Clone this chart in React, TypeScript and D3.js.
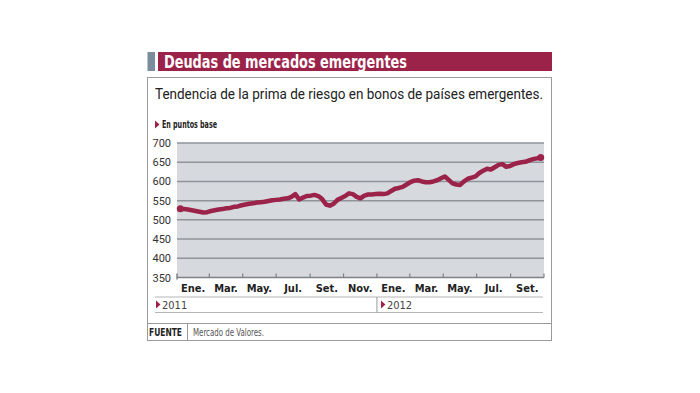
import React from 'react';
import * as d3 from 'd3';

// Serie semanal (puntos base), primera semana de ene. 2011 a fines de oct. 2012
const values2011 = [
  529, 528, 527, 525, 523, 521, 519, 520, 523, 525, 527, 528, 530, 531, 534, 535,
  538, 540, 542, 543, 545, 546, 547, 549, 551, 552, 553, 555, 556, 560, 567, 553,
  558, 562, 563, 565, 562, 554, 540, 537, 542, 552, 557, 562, 569, 567, 560, 556,
  563, 566, 566, 567,
];
const values2012 = [
  568, 567, 569, 575, 581, 583, 586, 592, 598, 602, 603, 600, 598, 598, 600, 603,
  608, 613, 604, 595, 592, 591, 600, 607, 610, 613, 622, 628, 633, 631, 637, 643,
  645, 638, 640, 645, 648, 650, 651, 655, 658, 660, 662,
];
const yTicks = [350, 400, 450, 500, 550, 600, 650, 700];
const monthLabels = ['Ene.', 'Mar.', 'May.', 'Jul.', 'Set.', 'Nov.', 'Ene.', 'Mar.', 'May.', 'Jul.', 'Set.'];
const years = ['2011', '2012'];

const title = 'Deudas de mercados emergentes';
const subtitle = 'Tendencia de la prima de riesgo en bonos de países emergentes.';
const unit = 'En puntos base';
const source = 'Mercado de Valores.';

const CRIMSON = '#9b2249';
const NARROW = '"Liberation Sans Narrow", "DejaVu Sans Condensed", "Roboto Condensed", sans-serif';
const SANS = 'Roboto, "Open Sans", sans-serif';

export default function App() {
  const values = [...values2011, ...values2012];
  const data = values.map((v, i) => ({ date: new Date(2011, 0, 7 + 7 * i), v }));

  const x = d3
    .scaleTime()
    .domain([new Date(2011, 0, 1), new Date(2012, 10, 1)])
    .range([177, 544]);
  const y = d3.scaleLinear().domain([350, 700]).range([277.5, 143]);

  const ticks = x.ticks(d3.timeMonth.every(2));
  const line = d3
    .line<{ date: Date; v: number }>()
    .x((d) => x(d.date))
    .y((d) => y(d.v));

  const first = data[0];
  const last = data[data.length - 1];
  const yearSplit = x(new Date(2012, 0, 1));

  const tri = (tx: number, ty: number) => `M${tx},${ty - 4}L${tx + 4.5},${ty}L${tx},${ty + 4}Z`;

  return (
    <svg
      width={700}
      height={393}
      style={{ position: 'absolute', left: 0, top: 0, background: '#fff' }}
    >
      {/* Title bar */}
      <rect x={147.5} y={52} width={7.5} height={19} fill='#7b8c9c' />
      <rect x={158} y={52} width={394} height={19} fill={CRIMSON} />
      <text
        x={164}
        y={68}
        fill='#fff'
        fontFamily={NARROW}
        fontWeight='bold'
        fontSize={17}
        textLength={243}
        lengthAdjust='spacingAndGlyphs'
      >
        {title}
      </text>

      {/* Frame */}
      <rect x={147.5} y={77.5} width={404} height={263} fill='none' stroke='#9a9a9a' />

      <text
        x={155}
        y={99}
        fill='#222'
        fontFamily={SANS}
        fontSize={15.5}
        textLength={388}
        lengthAdjust='spacingAndGlyphs'
      >
        {subtitle}
      </text>

      <path d={tri(155, 124.5)} fill={CRIMSON} />
      <text
        x={162}
        y={128}
        fill='#222'
        fontFamily={NARROW}
        fontWeight='bold'
        fontSize={10.5}
        textLength={55}
        lengthAdjust='spacingAndGlyphs'
      >
        {unit}
      </text>

      {/* Plot area */}
      <rect x={177} y={143} width={367} height={134.5} fill='#d6d9de' />
      {yTicks.slice(1).map((t) => (
        <line key={t} x1={177} x2={544} y1={y(t)} y2={y(t)} stroke='#8e949a' strokeWidth={1.5} />
      ))}
      <line x1={177} x2={544} y1={y(350)} y2={y(350)} stroke='#7d8288' strokeWidth={1.5} />
      <line x1={177} x2={177} y1={y(350) - 4} y2={y(350) + 2} stroke='#7d8288' strokeWidth={1.5} />
      {ticks.slice(1).map((t, i) => (
        <line
          key={i}
          x1={x(t)}
          x2={x(t)}
          y1={y(350) - 4}
          y2={y(350)}
          stroke='#7d8288'
          strokeWidth={1.2}
        />
      ))}

      {yTicks.map((t) => (
        <text
          key={t}
          x={171}
          y={y(t) + 4}
          textAnchor='end'
          fill='#333'
          fontFamily={SANS}
          fontSize={11}
        >
          {t}
        </text>
      ))}

      {monthLabels.map((m, i) => {
        const a = x(ticks[i]);
        const b = i + 1 < ticks.length ? x(ticks[i + 1]) : x.range()[1];
        return (
          <text
            key={i}
            x={(a + b) / 2}
            y={292}
            textAnchor='middle'
            fill='#222'
            fontFamily={NARROW}
            fontWeight='bold'
            fontSize={11}
          >
            {m}
          </text>
        );
      })}

      {/* Series */}
      <path
        d={line(data) || ''}
        fill='none'
        stroke={CRIMSON}
        strokeWidth={4.5}
        strokeLinejoin='round'
        strokeLinecap='round'
      />
      <circle cx={x(first.date)} cy={y(first.v)} r={3.5} fill={CRIMSON} />
      <circle cx={x(last.date)} cy={y(last.v)} r={3.5} fill={CRIMSON} />

      {/* Year band */}
      <line x1={155} x2={543} y1={297} y2={297} stroke='#b5b5b5' />
      <line x1={155} x2={543} y1={312.5} y2={312.5} stroke='#b5b5b5' />
      <line x1={yearSplit} x2={yearSplit} y1={297} y2={312.5} stroke='#9a9a9a' />
      {years.map((yr, i) => {
        const bx = i === 0 ? 155 : yearSplit + 3;
        return (
          <g key={yr}>
            <path d={tri(bx + 1, 304.5)} fill={CRIMSON} />
            <text x={bx + 7} y={308.5} fill='#444' fontFamily={NARROW} fontSize={11}>
              {yr}
            </text>
          </g>
        );
      })}

      {/* Source */}
      <line x1={147.5} x2={551.5} y1={323.5} y2={323.5} stroke='#9a9a9a' />
      <line x1={187.5} x2={187.5} y1={323.5} y2={340.5} stroke='#9a9a9a' />
      <text
        x={149}
        y={336}
        fill='#222'
        fontFamily={NARROW}
        fontWeight='bold'
        fontSize={10}
        textLength={33}
        lengthAdjust='spacingAndGlyphs'
      >
        FUENTE
      </text>
      <text
        x={193}
        y={336}
        fill='#555'
        fontFamily={NARROW}
        fontSize={10}
        textLength={71}
        lengthAdjust='spacingAndGlyphs'
      >
        {source}
      </text>
    </svg>
  );
}
